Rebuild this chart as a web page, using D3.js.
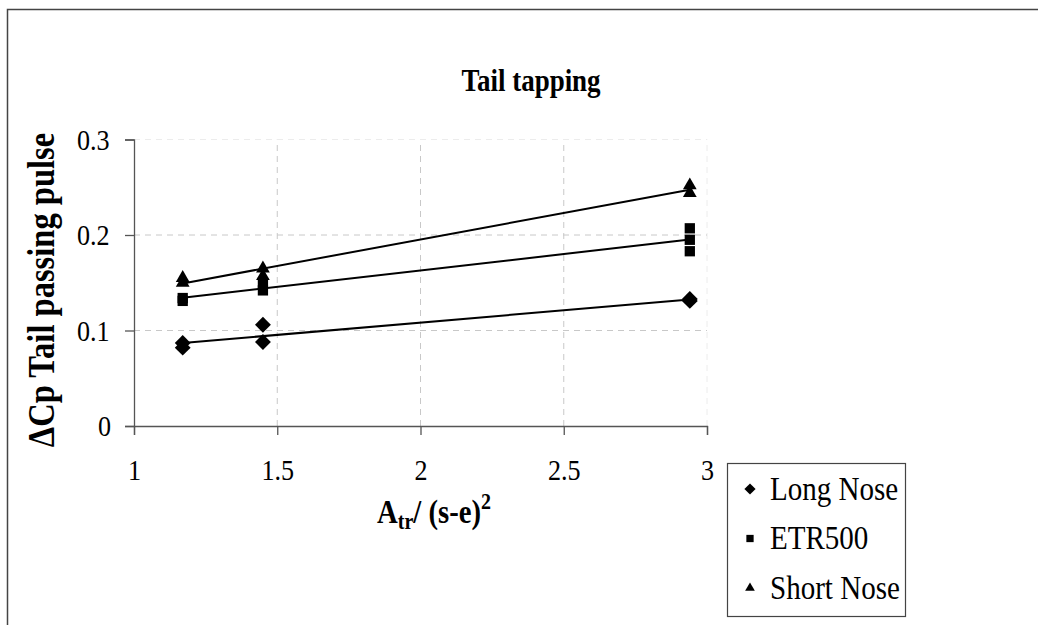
<!DOCTYPE html>
<html>
<head>
<meta charset="utf-8">
<style>
    body { margin: 0; background: #fff; }
    svg text { font-family: "Liberation Serif", "Times New Roman", serif; fill: #000; }
    .grid line { stroke: #c8c8c8; stroke-dasharray: 6,5; stroke-width: 1; }
    .axis path, .axis line { stroke: #555; stroke-width: 1.3; }
    .axis text { font-size: 30px; }
    .cond { transform-box: fill-box; transform-origin: center; transform: scaleX(0.87); }
    .condl { transform-box: fill-box; transform-origin: left; transform: scaleX(0.88); }
</style>
</head>
<body>
<svg width="1038" height="625"></svg>
<script src="https://d3js.org/d3.v7.min.js"></script>
<script>
// data
var xValues = [1.17, 1.45, 2.94];
var seriesNames = ["Long Nose", "ETR500", "Short Nose"];
var longNose  = [[0.082, 0.087], [0.088, 0.106], [0.131, 0.133]];
var etr500    = [[0.131, 0.134], [0.142, 0.150], [0.183, 0.195, 0.207]];
var shortNose = [[0.150, 0.155], [0.157, 0.165], [0.244, 0.252]];
var xTicks = [1, 1.5, 2, 2.5, 3];
var yTicks = [0, 0.1, 0.2, 0.3];

var svg = d3.select("svg");

// outer chart frame
svg.append("rect")
    .attr("x", 7.5).attr("y", 9.5)
    .attr("width", 1100).attr("height", 700)
    .attr("fill", "none").attr("stroke", "#444").attr("stroke-width", 1.5);

var x = d3.scaleLinear().domain([1, 3]).range([134, 707]);
var y = d3.scaleLinear().domain([0, 0.3]).range([426, 139.5]);

// gridlines
var grid = svg.append("g").attr("class", "grid");
grid.selectAll(".gx").data(xTicks.slice(1)).enter().append("line")
    .attr("x1", d => x(d)).attr("x2", d => x(d))
    .attr("y1", y(0)).attr("y2", y(0.3))
    .style("stroke", d => d == 3 ? "#ececec" : null);
grid.selectAll(".gy").data(yTicks.slice(1)).enter().append("line")
    .attr("x1", x(1)).attr("x2", x(3))
    .attr("y1", d => y(d)).attr("y2", d => y(d))
    .style("stroke", d => d == 0.3 ? "#ececec" : null);

// axes
svg.append("g").attr("class", "axis")
    .attr("transform", "translate(0," + y(0) + ")")
    .call(d3.axisBottom(x).tickValues(xTicks).tickSize(9).tickSizeOuter(9).tickPadding(24).tickFormat(d3.format("")))
    .selectAll("text").attr("class", "cond");
svg.append("g").attr("class", "axis")
    .attr("transform", "translate(" + x(1) + ",0)")
    .call(d3.axisLeft(y).tickValues(yTicks).tickSize(9).tickSizeOuter(9).tickPadding(13).tickFormat(d3.format("")))
    .selectAll("text").attr("class", "cond");

// series
var series = [
    { name: seriesNames[0], vals: longNose, sym: d3.symbolDiamond2, size: 160 },
    { name: seriesNames[1], vals: etr500, sym: d3.symbolSquare2, size: 135 },
    { name: seriesNames[2], vals: shortNose, sym: d3.symbolTriangle2, size: 135 }
];

series.forEach(function(s) {
    var pts = [];
    s.vals.forEach(function(v, i) { v.forEach(function(yy) { pts.push([xValues[i], yy]); }); });

    // linear trend line (least squares)
    var mx = d3.mean(pts, p => p[0]), my = d3.mean(pts, p => p[1]);
    var sxy = d3.sum(pts, p => (p[0] - mx) * (p[1] - my));
    var sxx = d3.sum(pts, p => (p[0] - mx) * (p[0] - mx));
    var b = sxy / sxx, a = my - b * mx;
    var x0 = d3.min(xValues), x1 = d3.max(xValues);
    svg.append("line")
        .attr("x1", x(x0)).attr("y1", y(a + b * x0))
        .attr("x2", x(x1)).attr("y2", y(a + b * x1))
        .attr("stroke", "#000").attr("stroke-width", 2);

    svg.append("g").selectAll("path").data(pts).enter().append("path")
        .attr("d", d3.symbol().type(s.sym).size(s.size))
        .attr("transform", p => "translate(" + x(p[0]) + "," + y(p[1]) + ")")
        .attr("fill", "#000");
});

// title
svg.append("text")
    .attr("class", "cond")
    .attr("x", 531).attr("y", 91)
    .attr("text-anchor", "middle")
    .attr("font-weight", "bold").attr("font-size", 31)
    .text("Tail tapping");

// y axis label
svg.append("text")
    .attr("transform", "translate(54,290) rotate(-90) scale(0.88,1)")
    .attr("text-anchor", "middle")
    .attr("font-weight", "bold").attr("font-size", 37)
    .text("ΔCp Tail passing pulse");

// x axis label
var xl = svg.append("text")
    .attr("class", "cond")
    .attr("x", 434).attr("y", 523)
    .attr("text-anchor", "middle")
    .attr("font-weight", "bold").attr("font-size", 33);
xl.append("tspan").text("A");
xl.append("tspan").attr("font-size", 23).attr("dy", 6).text("tr");
xl.append("tspan").attr("dy", -6).text("/ (s-e)");
xl.append("tspan").attr("font-size", 23).attr("dy", -14).text("2");

// legend
var lg = svg.append("g");
lg.append("rect")
    .attr("x", 727.5).attr("y", 463.5).attr("width", 178).attr("height", 153)
    .attr("fill", "#fff").attr("stroke", "#444").attr("stroke-width", 1.2);
series.forEach(function(s, i) {
    var cy = 489 + i * 49.5;
    lg.append("path")
        .attr("d", d3.symbol().type(s.sym).size(s.size * 0.5))
        .attr("transform", "translate(750," + cy + ")")
        .attr("fill", "#000");
    lg.append("text")
        .attr("class", "condl")
        .attr("x", 770).attr("y", cy + 11)
        .attr("font-size", 33)
        .text(s.name);
});
</script>
</body>
</html>
